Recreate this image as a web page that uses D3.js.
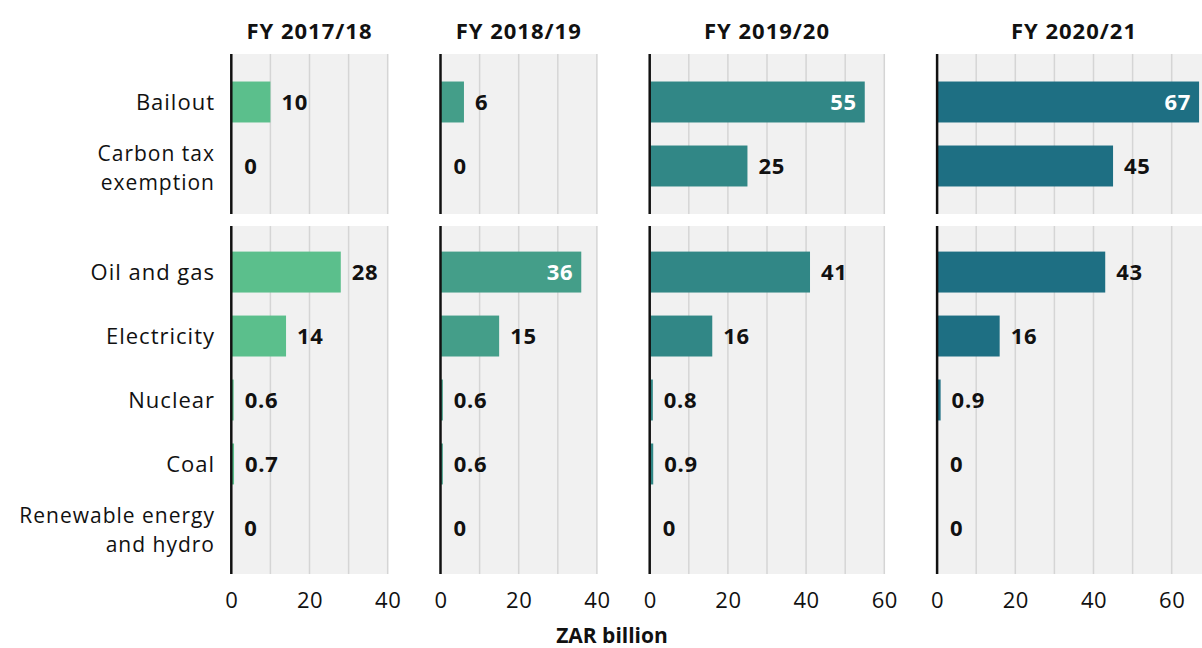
<!DOCTYPE html>
<html lang="en">
<head>
<meta charset="UTF-8">
<title>Fossil fuel support by year</title>
<script src="https://d3js.org/d3.v7.min.js"></script>
<style>
  body { margin: 0; background: #fff; }
  svg { display: block; font-family: "Open Sans", sans-serif; }
</style>
</head>
<body>
<svg width="1202" height="648"></svg>
<script>
// data
const topCategories = ["Bailout", "Carbon tax exemption"];
const bottomCategories = ["Oil and gas", "Electricity", "Nuclear", "Coal", "Renewable energy and hydro"];
const years = ["FY 2017/18", "FY 2018/19", "FY 2019/20", "FY 2020/21"];

// values per year, same order as topCategories then bottomCategories
const values1718 = [10, 0, 28, 14, 0.6, 0.7, 0];
const values1819 = [6, 0, 36, 15, 0.6, 0.6, 0];
const values1920 = [55, 25, 41, 16, 0.8, 0.9, 0];
const values2021 = [67, 45, 43, 16, 0.9, 0, 0];

const axisMax = [40, 40, 60, 70];
const tickLabels = [[0, 20, 40], [0, 20, 40], [0, 20, 40, 60], [0, 20, 40, 60]];
const colors = ["#5bbf8c", "#449e89", "#318786", "#1e6f83"];

// labels that wrap on two lines
const labelLines = {
  "Carbon tax exemption": ["Carbon tax", "exemption"],
  "Renewable energy and hydro": ["Renewable energy", "and hydro"]
};

const svg = d3.select("svg");
const allValues = [values1718, values1819, values1920, values2021];
const categories = topCategories.concat(bottomCategories);

const pxPerUnit = 3.91;
const gap = 52.8;
let left = 231.3;

const yTop = d3.scaleBand().domain(topCategories).range([54, 214])
  .paddingInner(0.36).paddingOuter(0.43);
const yBottom = d3.scaleBand().domain(bottomCategories).range([226, 574])
  .paddingInner(0.36).paddingOuter(0.4);
const groups = [yTop, yBottom];
const yOf = c => topCategories.includes(c) ? yTop : yBottom;

// row labels
const rowLabels = svg.append("g").attr("class", "row-labels");
categories.forEach(c => {
  const y = yOf(c);
  const cy = y(c) + y.bandwidth() / 2;
  const lines = labelLines[c] || [c];
  const t = rowLabels.append("text")
    .attr("text-anchor", "end")
    .attr("font-size", lines.length === 1 ? 22 : 21)
    .attr("letter-spacing", 1)
    .attr("fill", "#111");
  if (lines.length === 1) {
    t.append("tspan").attr("x", 215).attr("y", cy + 8).text(lines[0]);
  } else {
    t.append("tspan").attr("x", 215).attr("y", cy - 5).text(lines[0]);
    t.append("tspan").attr("x", 215).attr("y", cy + 24).text(lines[1]);
  }
});

years.forEach((year, i) => {
  const width = axisMax[i] * pxPerUnit;
  const x = d3.scaleLinear().domain([0, axisMax[i]]).range([0, width]);
  const g = svg.append("g").attr("transform", `translate(${left},0)`);
  const vals = allValues[i];

  // header
  g.append("text")
    .attr("x", width / 2)
    .attr("y", 39)
    .attr("text-anchor", "middle")
    .attr("font-size", 22)
    .attr("font-weight", 700)
    .attr("letter-spacing", 1)
    .attr("fill", "#111")
    .text(year);

  groups.forEach(y => {
    const [y0, y1] = y.range();
    g.append("rect")
      .attr("x", 0).attr("y", y0)
      .attr("width", width).attr("height", y1 - y0)
      .attr("fill", "#f1f1f1");
    g.selectAll(null)
      .data(d3.range(10, axisMax[i] + 1, 10))
      .enter().append("line")
      .attr("x1", d => x(d)).attr("x2", d => x(d))
      .attr("y1", y0).attr("y2", y1)
      .attr("stroke", "#d5d5d5")
      .attr("stroke-width", 1.5);
  });

  // bars
  categories.forEach((c, j) => {
    const y = yOf(c);
    const v = vals[j];
    const cy = y(c) + y.bandwidth() / 2;
    g.append("rect")
      .attr("x", x(0))
      .attr("y", y(c))
      .attr("width", x(v))
      .attr("height", y.bandwidth())
      .attr("fill", colors[i]);

    const inside = x(v) + 45 > width;
    g.append("text")
      .attr("x", inside ? x(v) - 8 : Math.max(x(v), 2) + 11)
      .attr("y", cy + 8)
      .attr("text-anchor", inside ? "end" : "start")
      .attr("font-size", 22)
      .attr("font-weight", 700)
      .attr("letter-spacing", 0.7)
      .attr("fill", inside ? "#fff" : "#111")
      .text(v);
  });

  // zero line for each group
  groups.forEach(y => {
    const [y0, y1] = y.range();
    g.append("line")
      .attr("x1", 0).attr("x2", 0)
      .attr("y1", y0).attr("y2", y1)
      .attr("stroke", "#111")
      .attr("stroke-width", 2.5);
  });

  // x axis labels
  const axis = g.append("g")
    .attr("transform", `translate(0,574)`)
    .call(d3.axisBottom(x).tickValues(tickLabels[i]).tickSize(0));
  axis.select(".domain").remove();
  axis.selectAll("text")
    .attr("y", 34)
    .attr("dy", null)
    .attr("font-family", "'Open Sans', sans-serif")
    .attr("font-size", 22)
    .attr("font-weight", 400)
    .attr("letter-spacing", 0.5)
    .attr("fill", "#111");

  left += width + gap;
});

svg.append("text")
  .attr("x", 612)
  .attr("y", 643)
  .attr("text-anchor", "middle")
  .attr("font-size", 21)
  .attr("font-weight", 700)
  .attr("fill", "#111")
  .text("ZAR billion");
</script>
</body>
</html>
